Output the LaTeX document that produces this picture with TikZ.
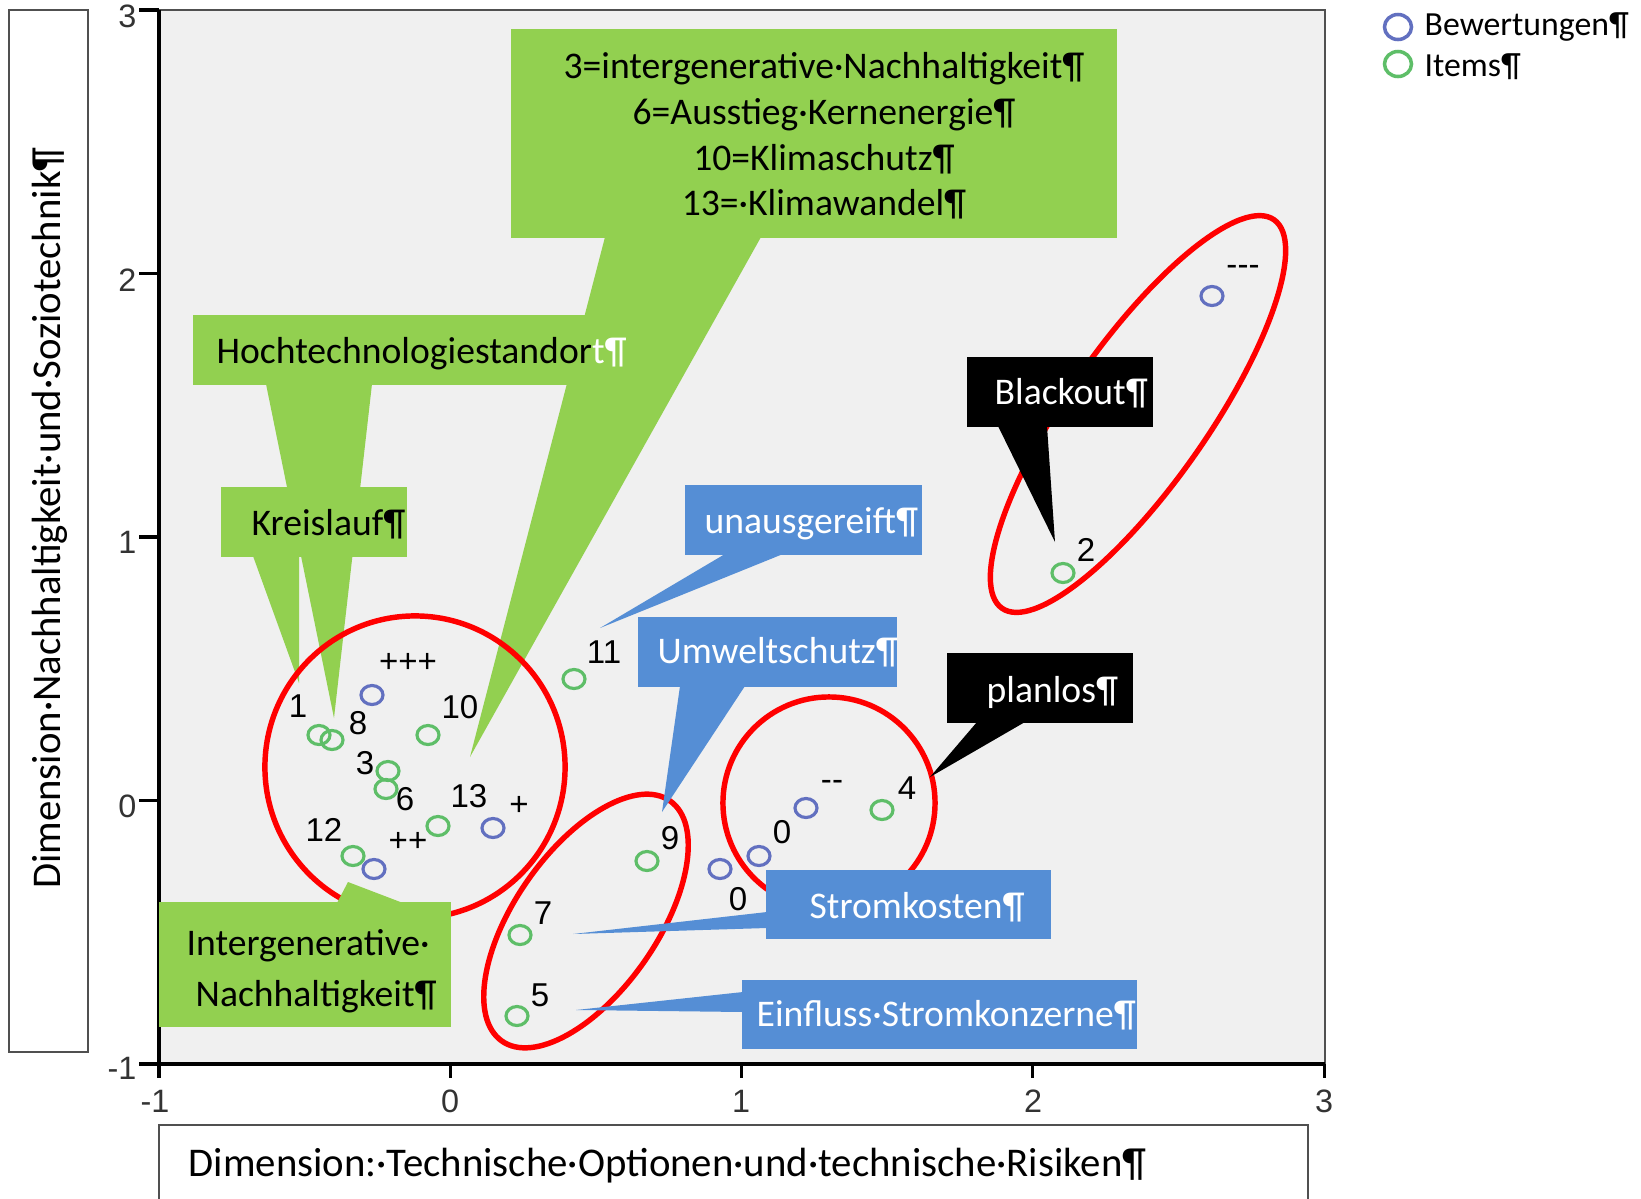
\documentclass[tikz,border=0pt]{standalone}
\usepackage{fontspec}
\setmainfont{Carlito}
\newfontfamily\arialf{Liberation Sans}
\usetikzlibrary{shapes.geometric,fit}
\definecolor{cgreen}{RGB}{146,208,80}
\definecolor{cblue}{RGB}{85,142,213}
\definecolor{mgreen}{RGB}{94,190,104}
\definecolor{mblue}{RGB}{98,112,192}
\definecolor{plotbg}{RGB}{240,240,240}
\definecolor{framec}{RGB}{80,80,80}
\definecolor{ringred}{RGB}{255,0,0}
\begin{document}
\begin{tikzpicture}[x=0.01cm,y=-0.01cm,
  box/.style={inner sep=0pt, outer sep=0pt, draw=none},
  gbox/.style={box, fill=cgreen},
  bbox/.style={box, fill=cblue},
  kbox/.style={box, fill=black},
  ctext/.style={inner sep=0pt, anchor=base west, font=\fontsize{10.7}{12}\selectfont},
  ctextc/.style={inner sep=0pt, anchor=base, font=\fontsize{10.7}{12}\selectfont},
  atitle/.style={inner sep=0pt, font=\fontsize{11.6}{13}\selectfont},
  titlebox/.style={draw=framec, line width=0.55pt},
  ticklab/.style={inner sep=0pt, font=\arialf\fontsize{9.2}{10}\selectfont, text=black!80},
  plab/.style={inner sep=0pt, font=\arialf\fontsize{9.4}{10}\selectfont, text=black},
  mk/.style={ellipse, inner sep=0pt, minimum width=0.22cm, minimum height=0.19cm, line width=0.9pt},
  gmark/.style={mk, draw=mgreen},
  bmark/.style={mk, draw=mblue},
  redring/.style={draw=ringred, line width=1.55pt},
  legtext/.style={inner sep=0pt, anchor=base west, font=\fontsize{9.6}{11}\selectfont}
]
\useasboundingbox (0,0) rectangle (1641,1199);
\fill[white] (0,0) rectangle (1641,1199);

% axis title boxes
\draw[titlebox] (9,10) rectangle (88,1052);
\node[atitle, rotate=90] (ytitle) at (50,518) {Dimension·Nachhaltigkeit·und·Soziotechnik¶};
\draw[titlebox] (159,1125) rectangle (1308,1230);
\node[atitle, anchor=base west] (xtitle) at (188,1176) {Dimension:·Technische·Optionen·und·technische·Risiken¶};

% plot area
\fill[plotbg] (159,10) rectangle (1325,1064);
\draw[framec, line width=0.7pt] (159,10) -- (1325,10) -- (1325,1064);
\draw[black, line width=0.9pt] (159,10) -- (159,1064) -- (1325,1064);
\foreach \yy in {10,273.5,537,800.5,1064} \draw[black, line width=0.9pt] (139,\yy) -- (159,\yy);
\foreach \xx in {159,450.3,741.6,1032.9,1324.2} \draw[black, line width=0.9pt] (\xx,1064) -- (\xx,1078);
\node[ticklab, anchor=east] (ty3) at (137,16) {3};
\node[ticklab, anchor=east] (ty2) at (137,280) {2};
\node[ticklab, anchor=east] (ty1) at (137,542) {1};
\node[ticklab, anchor=east] (ty0) at (137,806) {0};
\node[ticklab, anchor=east] (tym1) at (137,1068) {-1};
\node[ticklab] (txm1) at (155,1101) {-1};
\node[ticklab] (tx0) at (450,1101) {0};
\node[ticklab] (tx1) at (741,1101) {1};
\node[ticklab] (tx2) at (1033,1101) {2};
\node[ticklab] (tx3) at (1324,1101) {3};

% legend
\node[mk, draw=mblue, minimum width=0.27cm, minimum height=0.25cm, line width=1pt] (legB) at (1398,27) {};
\node[legtext] (legBT) at (1424,35) {Bewertungen¶};
\node[mk, draw=mgreen, minimum width=0.27cm, minimum height=0.25cm, line width=1pt] (legI) at (1398,64) {};
\node[legtext] (legIT) at (1424,76) {Items¶};

% big green callout
\coordinate (bigA) at (605,237);
\coordinate (bigB) at (761,237);
\coordinate (bigTip) at (470,757);
\fill[cgreen] (bigA) -- (bigTip) -- (bigB) -- cycle;
\node[gbox, fit={(511,29) (1117,238)}] (bigbox) {};
\node[ctextc] (bigT1) at (824,78) {3=intergenerative·Nachhaltigkeit¶};
\node[ctextc] (bigT2) at (824,124) {6=Ausstieg·Kernenergie¶};
\node[ctextc] (bigT3) at (824,170) {10=Klimaschutz¶};
\node[ctextc] (bigT4) at (824,215) {13=·Klimawandel¶};

% Hochtechnologiestandort
\coordinate (hochA) at (266,384);
\coordinate (hochB) at (372,384);
\coordinate (hochTip) at (334,718);
\fill[cgreen] (hochA) -- (hochTip) -- (hochB) -- cycle;
\node[gbox, fit={(193,315) (600,385)}] (hochbox) {};
\node[ctext] (hochT) at (216,363) {Hochtechnologiestandor{\color{white}t¶}};

% Kreislauf
\coordinate (kreA) at (253,556);
\coordinate (kreB) at (299,556);
\coordinate (kreTip) at (299,683);
\fill[cgreen] (kreA) -- (kreTip) -- (kreB) -- cycle;
\node[gbox, fit={(221,487) (407,557)}] (krebox) {};
\node[ctext] (kreT) at (251,535) {Kreislauf¶};

% red rings
\draw[redring] (415,767) ellipse [x radius=1.5cm, y radius=1.51cm];
\draw[redring, rotate around={55:(586,921)}] (586,921) ellipse [x radius=1.465cm, y radius=0.71cm];
\draw[redring] (829,803) ellipse [x radius=1.06cm, y radius=1.06cm];
\draw[redring, rotate around={55:(1138,414)}] (1138,414) ellipse [x radius=2.37cm, y radius=0.70cm];

% Intergenerative Nachhaltigkeit
\coordinate (intA) at (337,903);
\coordinate (intB) at (403,903);
\coordinate (intTip) at (348,882);
\fill[cgreen] (intA) -- (intTip) -- (intB) -- cycle;
\node[gbox, fit={(159,902) (451,1027)}] (intbox) {};
\node[ctext] (intT1) at (186,955) {Intergenerative·};
\node[ctext] (intT2) at (195,1006) {Nachhaltigkeit¶};

% unausgereift
\coordinate (unaA) at (725,554);
\coordinate (unaB) at (783,554);
\coordinate (unaTip) at (600,628);
\fill[cblue] (unaA) -- (unaTip) -- (unaB) -- cycle;
\node[bbox, fit={(685,485) (922,555)}] (unabox) {};
\node[ctext, text=white] (unaT) at (704,533) {unausgereift¶};

% Umweltschutz
\coordinate (umwA) at (680,686);
\coordinate (umwB) at (745,686);
\coordinate (umwTip) at (662,812);
\fill[cblue] (umwA) -- (umwTip) -- (umwB) -- cycle;
\node[bbox, fit={(638,617) (897,687)}] (umwbox) {};
\node[ctext, text=white] (umwT) at (657,663) {Umweltschutz¶};

% Stromkosten
\coordinate (strA) at (767,912);
\coordinate (strB) at (767,928);
\coordinate (strTip) at (573,934);
\fill[cblue] (strA) -- (strTip) -- (strB) -- cycle;
\node[bbox, fit={(766,870) (1051,939)}] (strbox) {};
\node[ctext, text=white] (strT) at (809,918) {Stromkosten¶};

% Einfluss Stromkonzerne
\coordinate (einA) at (743,992);
\coordinate (einB) at (743,1012);
\coordinate (einTip) at (576,1010);
\fill[cblue] (einA) -- (einTip) -- (einB) -- cycle;
\node[bbox, fit={(742,980) (1137,1049)}] (einbox) {};
\node[ctext, text=white] (einT) at (756,1026) {Einfluss·Stromkonzerne¶};

% Blackout
\coordinate (blaA) at (998,426);
\coordinate (blaB) at (1047,426);
\coordinate (blaTip) at (1055,542);
\fill[black] (blaA) -- (blaTip) -- (blaB) -- cycle;
\node[kbox, fit={(967,357) (1153,427)}] (blabox) {};
\node[ctext, text=white] (blaT) at (994,404) {Blackout¶};

% planlos
\coordinate (plaA) at (977,722);
\coordinate (plaB) at (1025,722);
\coordinate (plaTip) at (930,777);
\fill[black] (plaA) -- (plaTip) -- (plaB) -- cycle;
\node[kbox, fit={(947,653) (1133,723)}] (plabox) {};
\node[ctext, text=white] (plaT) at (986,702) {planlos¶};

% Bewertungen markers
\node[bmark] (b1) at (372,695) {};
\node[plab] (lb1) at (408,663) {+++};
\node[bmark] (b2) at (374,869) {};
\node[plab] (lb2) at (408,842) {++};
\node[bmark] (b3) at (493,828) {};
\node[plab] (lb3) at (519,806) {+};
\node[bmark] (b4) at (720,869) {};
\node[plab] (lb4) at (738,899) {0};
\node[bmark] (b5) at (759,856) {};
\node[plab] (lb5) at (782,832) {0};
\node[bmark] (b6) at (806,808) {};
\node[plab] (lb6) at (832,785) {-{}-};
\node[bmark] (b7) at (1212,296) {};
\node[plab] (lb7) at (1243,270) {-{}-{}-};

% Items markers
\node[gmark] (g1) at (319,735) {};
\node[plab] (lg1) at (298,706) {1};
\node[gmark] (g8) at (332,740) {};
\node[plab] (lg8) at (358,723) {8};
\node[gmark] (g3) at (388,771) {};
\node[plab] (lg3) at (365,763) {3};
\node[gmark] (g6) at (386,789) {};
\node[plab] (lg6) at (405,799) {6};
\node[gmark] (g10) at (428,735) {};
\node[plab] (lg10) at (460,707) {10};
\node[gmark] (g13) at (438,826) {};
\node[plab] (lg13) at (469,796) {13};
\node[gmark] (g12) at (353,856) {};
\node[plab] (lg12) at (324,830) {12};
\node[gmark] (g11) at (574,679) {};
\node[plab] (lg11) at (604,652) {11};
\node[gmark] (g9) at (647,861) {};
\node[plab] (lg9) at (670,838) {9};
\node[gmark] (g7) at (520,935) {};
\node[plab] (lg7) at (543,913) {7};
\node[gmark] (g5) at (517,1016) {};
\node[plab] (lg5) at (540,995) {5};
\node[gmark] (g4) at (882,810) {};
\node[plab] (lg4) at (907,788) {4};
\node[gmark] (g2) at (1063,573) {};
\node[plab] (lg2) at (1086,550) {2};
\end{tikzpicture}
\end{document}
